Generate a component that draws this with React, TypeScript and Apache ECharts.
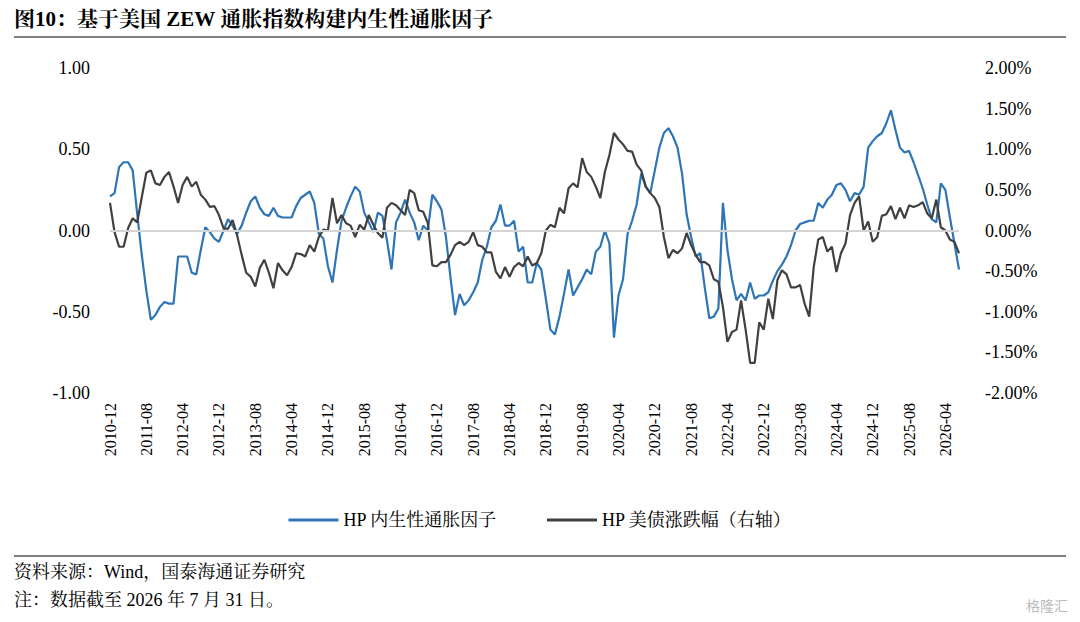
import React, { useEffect, useRef } from "react";
import * as echarts from "echarts";

const startYear = 2010;
const startMonth = 12;
const monthCount = 188;
const categories: string[] = [];
for (let i = 0; i < monthCount; i++) {
  const m = startMonth - 1 + i;
  const y = startYear + Math.floor(m / 12);
  const mm = (m % 12) + 1;
  categories.push(`${y}-${mm < 10 ? "0" + mm : mm}`);
}

const factorValues = [
  0.21, 0.23, 0.39, 0.42, 0.42, 0.37, 0.10, -0.15, -0.37, -0.55, -0.52, -0.47, -0.44, -0.45, -0.45, -0.16, -0.16, -0.16, -0.26, -0.27,
  -0.12, 0.02, -0.01, -0.05, -0.07, 0.0, 0.07, 0.03, -0.02, 0.03, 0.11, 0.18, 0.21, 0.14, 0.10, 0.09, 0.14, 0.09, 0.08, 0.08,
  0.08, 0.15, 0.20, 0.22, 0.24, 0.17, -0.02, -0.05, -0.22, -0.32, -0.12, 0.06, 0.14, 0.21, 0.27, 0.24, 0.11, 0.05, -0.01, 0.11,
  0.09, -0.06, -0.24, 0.05, 0.11, 0.19, 0.11, 0.05, -0.06, 0.03, 0.0, 0.22, 0.18, 0.13, -0.04, -0.29, -0.52, -0.39, -0.46, -0.43,
  -0.38, -0.32, -0.18, -0.10, 0.02, 0.06, 0.16, 0.03, 0.03, 0.06, -0.13, -0.10, -0.32, -0.32, -0.20, -0.24, -0.42, -0.61, -0.64, -0.53,
  -0.39, -0.24, -0.40, -0.35, -0.30, -0.24, -0.27, -0.13, -0.10, 0.0, -0.08, -0.66, -0.40, -0.30, -0.02, 0.06, 0.16, 0.35, 0.27, 0.23,
  0.37, 0.51, 0.60, 0.63, 0.58, 0.51, 0.35, 0.10, -0.04, -0.16, -0.14, -0.35, -0.54, -0.53, -0.48, 0.17, -0.12, -0.30, -0.43, -0.39,
  -0.43, -0.32, -0.42, -0.40, -0.40, -0.38, -0.31, -0.25, -0.21, -0.16, -0.09, 0.0, 0.04, 0.05, 0.06, 0.06, 0.17, 0.14, 0.19, 0.22,
  0.28, 0.29, 0.25, 0.18, 0.23, 0.22, 0.27, 0.51, 0.55, 0.58, 0.60, 0.66, 0.74, 0.62, 0.51, 0.48, 0.49, 0.42, 0.34, 0.26,
  0.16, 0.07, 0.05, 0.29, 0.25, 0.08, -0.08, -0.24,
];

const bondValues = [
  0.34, -0.02, -0.20, -0.20, 0.03, 0.15, 0.10, 0.41, 0.71, 0.74, 0.58, 0.56, 0.66, 0.72, 0.54, 0.34, 0.56, 0.66, 0.54, 0.60,
  0.44, 0.38, 0.29, 0.30, 0.19, 0.03, 0.02, 0.13, -0.06, -0.30, -0.52, -0.57, -0.69, -0.46, -0.36, -0.52, -0.71, -0.40, -0.49, -0.55,
  -0.45, -0.28, -0.29, -0.32, -0.18, -0.26, -0.08, 0.01, 0.0, 0.40, 0.09, 0.19, 0.09, 0.06, -0.08, 0.07, 0.01, 0.19, 0.07, -0.03,
  -0.09, 0.28, 0.34, 0.31, 0.25, 0.19, 0.50, 0.46, 0.25, 0.23, 0.09, -0.43, -0.44, -0.39, -0.39, -0.30, -0.18, -0.14, -0.18, -0.14,
  -0.02, -0.18, -0.20, -0.27, -0.27, -0.51, -0.59, -0.45, -0.57, -0.45, -0.40, -0.44, -0.32, -0.43, -0.40, -0.28, 0.0, 0.07, 0.04, 0.28,
  0.21, 0.52, 0.58, 0.53, 0.89, 0.72, 0.66, 0.54, 0.40, 0.72, 0.93, 1.20, 1.12, 1.06, 0.98, 0.97, 0.81, 0.74, 0.54, 0.46,
  0.40, 0.29, -0.08, -0.34, -0.24, -0.28, -0.22, -0.03, -0.18, -0.30, -0.39, -0.39, -0.43, -0.60, -0.63, -0.94, -1.37, -1.25, -1.22, -0.86,
  -1.22, -1.63, -1.63, -1.13, -1.22, -0.84, -1.09, -0.61, -0.49, -0.54, -0.70, -0.70, -0.67, -0.90, -1.06, -0.45, -0.11, -0.08, -0.26, -0.20,
  -0.51, -0.28, -0.16, 0.19, 0.34, 0.42, 0.0, 0.11, -0.14, -0.08, 0.18, 0.20, 0.30, 0.14, 0.28, 0.15, 0.31, 0.29, 0.31, 0.35,
  0.21, 0.15, 0.38, 0.04, 0.0, -0.11, -0.14, -0.28,
];

const FONT = "'Liberation Serif', 'Noto Sans CJK SC', serif";
const CJK = "'Liberation Serif', 'Noto Serif CJK SC', 'Noto Sans CJK SC', serif";

export default function App() {
  const ref = useRef<HTMLDivElement>(null);
  useEffect(() => {
    const chart = echarts.init(ref.current!, null, { renderer: "svg" });
    chart.setOption({
      animation: false,
      backgroundColor: "#fff",
      grid: { left: 110, right: 121, top: 68, bottom: 229 },
      legend: {
        bottom: 88,
        left: "center",
        itemWidth: 50,
        itemHeight: 3,
        itemGap: 50,
        icon: "rect",
        textStyle: { fontFamily: CJK, fontSize: 18, color: "#000" },
        data: ["HP 内生性通胀因子", "HP 美债涨跌幅（右轴）"],
      },
      xAxis: {
        type: "category",
        data: categories,
        boundaryGap: false,
        axisLine: { show: false },
        axisTick: { show: false },
        axisLabel: { interval: 7, rotate: 90, fontFamily: FONT, fontSize: 16, color: "#000", margin: 10 },
      },
      yAxis: [
        {
          type: "value", min: -1, max: 1, interval: 0.5,
          splitLine: { show: false }, axisLine: { show: false }, axisTick: { show: false },
          axisLabel: { formatter: (v: number) => v.toFixed(2), fontFamily: FONT, fontSize: 18, color: "#000", margin: 20 },
        },
        {
          type: "value", min: -2, max: 2, interval: 0.5,
          splitLine: { show: false }, axisLine: { show: false }, axisTick: { show: false },
          axisLabel: { formatter: (v: number) => v.toFixed(2) + "%", fontFamily: FONT, fontSize: 18, color: "#000", margin: 26 },
        },
      ],
      series: [
        {
          name: "HP 内生性通胀因子", type: "line", data: factorValues, yAxisIndex: 0,
          symbol: "none", lineStyle: { color: "#2E75B6", width: 2.2 }, itemStyle: { color: "#2E75B6" }, z: 3,
          markLine: {
            silent: true, symbol: "none", label: { show: false },
            lineStyle: { color: "#d4d4d4", type: "solid", width: 2 },
            data: [{ yAxis: 0 }],
          },
        },
        {
          name: "HP 美债涨跌幅（右轴）", type: "line", data: bondValues, yAxisIndex: 1,
          symbol: "none", lineStyle: { color: "#404040", width: 2.2 }, itemStyle: { color: "#404040" }, z: 4,
        },
      ],
      graphic: [
        { type: "text", left: 14, top: 8, style: { text: "图10：基于美国 ZEW 通胀指数构建内生性通胀因子", font: `bold 21px ${CJK}`, fill: "#000" } },
        { type: "line", shape: { x1: 14, y1: 37, x2: 1066, y2: 37 }, style: { stroke: "#000", lineWidth: 1 } },
        { type: "line", shape: { x1: 14, y1: 556, x2: 1066, y2: 556 }, style: { stroke: "#000", lineWidth: 1 } },
        { type: "text", left: 14, top: 563, style: { text: "资料来源：Wind，国泰海通证券研究", font: `18px ${CJK}`, fill: "#000" } },
        { type: "text", left: 14, top: 591, style: { text: "注：数据截至 2026 年 7 月 31 日。", font: `18px ${CJK}`, fill: "#000" } },
        { type: "text", right: 12, top: 598, style: { text: "格隆汇", font: `14px 'Noto Sans CJK SC'`, fill: "#bbb" } },
      ],
    });
    return () => chart.dispose();
  }, []);
  return <div ref={ref} style={{ width: 1080, height: 622, position: "absolute", left: 0, top: 0 }} />;
}
